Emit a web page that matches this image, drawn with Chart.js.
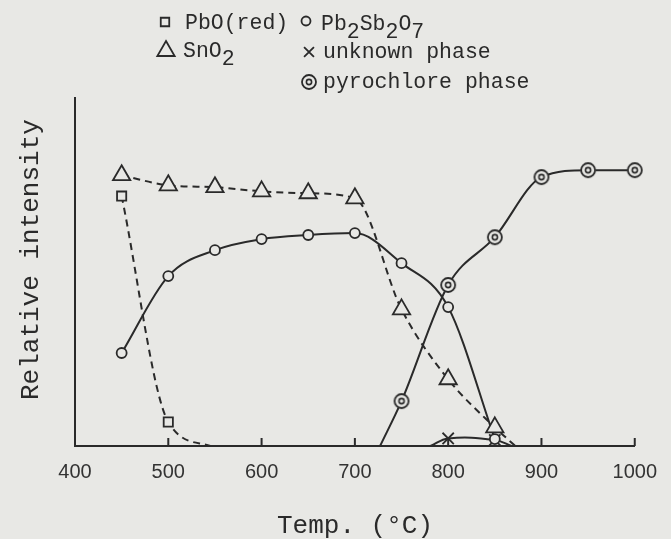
<!DOCTYPE html>
<html>
<head>
<meta charset="utf-8">
<script src="https://cdn.jsdelivr.net/npm/chart.js@4"></script>
<style>
  html, body { margin: 0; padding: 0; background: #e8e8e5; }
  #phaseChart { display: block; }
</style>
</head>
<body>
<canvas id="phaseChart" width="671" height="539"></canvas>
<script>
// temperatures (°C) and relative intensities per phase
const pboTemp = [450, 500, 545];
const pboInt = [79.0, 7.6, 0];

const sno2Temp = [450, 500, 550, 600, 650, 700, 750, 800, 850, 872];
const sno2Int = [85.6, 82.4, 81.8, 80.5, 79.9, 78.3, 43.2, 21.1, 5.9, 0];

const pbsbTemp = [450, 500, 550, 600, 650, 700, 750, 800, 850];
const pbsbInt = [29.4, 53.7, 61.9, 65.4, 66.7, 67.3, 57.8, 43.9, 2.2];

const unknownTemp = [781, 800, 850, 868];
const unknownInt = [0, 2.4, 1.9, 0];

const pyroTemp = [727, 750, 800, 850, 900, 950, 1000];
const pyroInt = [0, 14.2, 50.9, 66.0, 85.0, 87.2, 87.2];

const xTicks = [400, 500, 600, 700, 800, 900, 1000];

const BG = "#e8e8e5";
const INK = "#2a2a2a";
const MONO = "'Liberation Mono', 'DejaVu Sans Mono', monospace";

const toPoints = (xs, ys) => xs.map((x, i) => ({ x: x, y: ys[i] }));

// double ring marker for the pyrochlore phase
const ringMarker = (() => {
  const c = document.createElement("canvas");
  c.width = 20;
  c.height = 20;
  const g = c.getContext("2d");
  g.fillStyle = BG;
  g.beginPath();
  g.arc(10, 10, 7.5, 0, Math.PI * 2);
  g.fill();
  g.strokeStyle = INK;
  g.lineWidth = 1.8;
  g.beginPath();
  g.arc(10, 10, 7, 0, Math.PI * 2);
  g.stroke();
  g.lineWidth = 1.6;
  g.beginPath();
  g.arc(10, 10, 2.6, 0, Math.PI * 2);
  g.stroke();
  return c;
})();

// points sitting on the baseline are only curve ends, no marker
const markerRadius = (r) => (ctx) => (ctx.raw && ctx.raw.y > 0 ? r : 0);

const baseSet = {
  borderColor: INK,
  borderWidth: 2,
  pointBorderColor: INK,
  pointBackgroundColor: BG,
  pointBorderWidth: 1.8,
  cubicInterpolationMode: "monotone",
  clip: false,
  fill: false,
};

// monospace text with subscript runs: segments of [text, isSub]
const drawMonoText = (ctx, segments, x, y, size) => {
  ctx.font = `${size}px ${MONO}`;
  const adv = ctx.measureText("M").width;
  let cx = x;
  segments.forEach(([txt, sub]) => {
    for (const ch of txt) {
      ctx.fillText(ch, cx, sub ? y + 8 : y);
      cx += adv;
    }
  });
};

const decorations = {
  id: "decorations",
  beforeDraw(chart) {
    const ctx = chart.ctx;
    ctx.save();
    ctx.fillStyle = BG;
    ctx.fillRect(0, 0, chart.width, chart.height);
    ctx.restore();
  },
  afterDraw(chart) {
    const ctx = chart.ctx;
    const xs = chart.scales.x;
    const bottom = chart.chartArea.bottom;
    ctx.save();

    // inward tick marks
    ctx.strokeStyle = INK;
    ctx.lineWidth = 2;
    xs.ticks.forEach((t) => {
      if (t.value === xs.min) return;
      const px = xs.getPixelForValue(t.value);
      ctx.beginPath();
      ctx.moveTo(px, bottom);
      ctx.lineTo(px, bottom - 8);
      ctx.stroke();
    });

    // axis titles
    ctx.fillStyle = INK;
    ctx.textBaseline = "alphabetic";
    ctx.font = `26px ${MONO}`;
    ctx.textAlign = "center";
    ctx.fillText("Temp. (°C)", 355, 533);
    ctx.save();
    ctx.translate(38, 400);
    ctx.rotate(-Math.PI / 2);
    ctx.textAlign = "left";
    ctx.fillText("Relative intensity", 0, 0);
    ctx.restore();

    // legend
    ctx.textAlign = "left";
    const sym = { borderWidth: 1.8, rotation: 0 };
    ctx.strokeStyle = INK;
    ctx.fillStyle = BG;
    ctx.lineWidth = 1.8;
    Chart.helpers.drawPoint(ctx, { ...sym, pointStyle: "rect", radius: 6 }, 165, 22);
    Chart.helpers.drawPoint(ctx, { ...sym, pointStyle: "circle", radius: 4.5 }, 306, 21);
    Chart.helpers.drawPointLegend(ctx, { ...sym, pointStyle: "triangle", radius: 10 }, 166, 51, 20);
    Chart.helpers.drawPoint(ctx, { ...sym, pointStyle: "crossRot", radius: 7 }, 309, 52);
    ctx.drawImage(ringMarker, 299, 72);

    ctx.fillStyle = INK;
    drawMonoText(ctx, [["PbO(red)", false]], 185, 29, 21.5);
    drawMonoText(ctx, [["Pb", false], ["2", true], ["Sb", false], ["2", true], ["O", false], ["7", true]], 321, 30, 21.5);
    drawMonoText(ctx, [["SnO", false], ["2", true]], 183, 57, 21.5);
    drawMonoText(ctx, [["unknown phase", false]], 323, 58, 21.5);
    drawMonoText(ctx, [["pyrochlore phase", false]], 323, 88, 21.5);

    ctx.restore();
  },
};

const ctx = document.getElementById("phaseChart").getContext("2d");

new Chart(ctx, {
  type: "line",
  data: {
    datasets: [
      {
        ...baseSet,
        label: "PbO(red)",
        data: toPoints(pboTemp, pboInt),
        borderDash: [7, 5],
        pointStyle: "rect",
        pointRadius: markerRadius(6.5),
      },
      {
        ...baseSet,
        label: "SnO2",
        data: toPoints(sno2Temp, sno2Int),
        borderDash: [7, 5],
        pointStyle: "triangle",
        pointRadius: markerRadius(10),
      },
      {
        ...baseSet,
        label: "Pb2Sb2O7",
        data: toPoints(pbsbTemp, pbsbInt),
        pointStyle: "circle",
        pointRadius: markerRadius(5),
      },
      {
        ...baseSet,
        label: "unknown phase",
        data: toPoints(unknownTemp, unknownInt),
        cubicInterpolationMode: "default",
        tension: 0.4,
        pointStyle: "crossRot",
        pointRadius: markerRadius(8),
      },
      {
        ...baseSet,
        label: "pyrochlore phase",
        data: toPoints(pyroTemp, pyroInt),
        pointStyle: ringMarker,
        pointRadius: markerRadius(8),
      },
    ],
  },
  options: {
    responsive: false,
    animation: false,
    events: [],
    layout: { padding: { top: 98, right: 35, left: 0, bottom: 0 } },
    plugins: {
      legend: { display: false },
      tooltip: { enabled: false },
    },
    scales: {
      x: {
        type: "linear",
        min: 400,
        max: 1000,
        afterBuildTicks: (scale) => {
          scale.ticks = xTicks.map((v) => ({ value: v }));
        },
        afterFit: (scale) => {
          scale.height = 93;
        },
        grid: { display: false, drawTicks: false },
        border: { display: true, color: INK, width: 2 },
        ticks: {
          color: "#333",
          padding: 14,
          maxRotation: 0,
          autoSkip: false,
          callback: (value) => String(value),
          font: { family: "'Liberation Sans', Arial, sans-serif", size: 20 },
        },
      },
      y: {
        min: 0,
        max: 110,
        afterFit: (scale) => {
          scale.width = 75;
        },
        grid: { display: false, drawTicks: false },
        border: { display: true, color: INK, width: 2 },
        ticks: { display: false },
      },
    },
  },
  plugins: [decorations],
});
</script>
</body>
</html>
